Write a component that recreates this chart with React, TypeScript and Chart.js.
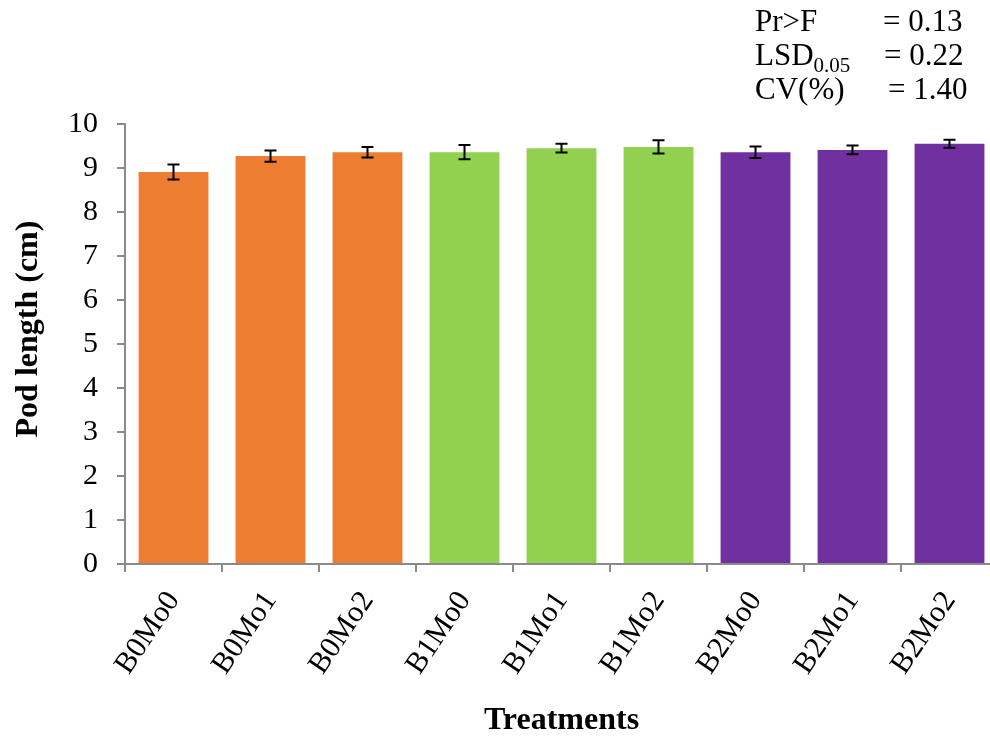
import React, { useEffect, useRef } from "react";
import { Chart, registerables } from "chart.js";

Chart.register(...registerables);

const categories = ["B0Mo0", "B0Mo1", "B0Mo2", "B1Mo0", "B1Mo1", "B1Mo2", "B2Mo0", "B2Mo1", "B2Mo2"];
const podLength = [8.91, 9.27, 9.36, 9.36, 9.45, 9.48, 9.36, 9.41, 9.55];
const errorValues = [0.17, 0.13, 0.12, 0.16, 0.1, 0.15, 0.13, 0.1, 0.09];
const barColors = [
  "#ED7D31", "#ED7D31", "#ED7D31",
  "#92D050", "#92D050", "#92D050",
  "#7030A0", "#7030A0", "#7030A0",
];
const yMin = 0;
const yMax = 10;
const yStep = 1;
const yTitle = "Pod length (cm)";
const xTitle = "Treatments";
const statLabels = ["Pr>F", "LSD", "CV(%)"];
const statSubs = ["", "0.05", ""];
const statValues = ["= 0.13", "= 0.22", "= 1.40"];

const SERIF = '"Liberation Serif", "Times New Roman", serif';
const AXIS_GRAY = "#8a8a8a";

const errorBarPlugin = {
  id: "errorBars",
  afterDatasetsDraw(chart: any) {
    const ctx = chart.ctx;
    const meta = chart.getDatasetMeta(0);
    const y = chart.scales.y;
    ctx.save();
    ctx.strokeStyle = "#000";
    ctx.lineWidth = 2;
    meta.data.forEach((bar: any, i: number) => {
      const x = bar.x;
      const top = y.getPixelForValue(podLength[i] + errorValues[i]);
      const bot = y.getPixelForValue(podLength[i] - errorValues[i]);
      ctx.beginPath();
      ctx.moveTo(x, top);
      ctx.lineTo(x, bot);
      ctx.moveTo(x - 6, top);
      ctx.lineTo(x + 6, top);
      ctx.moveTo(x - 6, bot);
      ctx.lineTo(x + 6, bot);
      ctx.stroke();
    });
    ctx.restore();
  },
};

const yTitlePlugin = {
  id: "yTitle",
  afterDraw(chart: any) {
    const ctx = chart.ctx;
    ctx.save();
    ctx.translate(29, 329);
    ctx.rotate(-Math.PI / 2);
    ctx.font = `bold 32px ${SERIF}`;
    ctx.fillStyle = "#000";
    ctx.textAlign = "center";
    ctx.textBaseline = "middle";
    ctx.fillText(yTitle, 0, 0);
    ctx.restore();
  },
};

export default function App() {
  const canvasRef = useRef<HTMLCanvasElement | null>(null);

  useEffect(() => {
    if (!canvasRef.current) return;
    const chart = new Chart(canvasRef.current, {
      type: "bar",
      data: {
        labels: categories,
        datasets: [
          {
            data: podLength,
            backgroundColor: barColors,
            borderWidth: 0,
            categoryPercentage: 1,
            barPercentage: 0.72,
          },
        ],
      },
      options: {
        responsive: false,
        animation: false,
        devicePixelRatio: 1,
        layout: { padding: { top: 124, left: 0, right: 2, bottom: 0 } },
        plugins: {
          legend: { display: false },
          tooltip: { enabled: false },
          title: { display: false },
        },
        scales: {
          x: {
            grid: {
              display: true,
              drawOnChartArea: false,
              drawTicks: true,
              tickLength: 8,
              color: AXIS_GRAY,
              lineWidth: 2,
            },
            border: { display: true, color: AXIS_GRAY, width: 2 },
            ticks: {
              minRotation: 56,
              maxRotation: 56,
              padding: 13,
              color: "#000",
              font: { family: SERIF, size: 30 },
            },
            title: {
              display: true,
              text: xTitle,
              color: "#000",
              font: { family: SERIF, size: 32, weight: "bold" },
              padding: { top: 0, bottom: 0 },
            },
            afterFit(scale: any) {
              scale.height = 176;
            },
          },
          y: {
            min: yMin,
            max: yMax,
            grid: {
              display: true,
              drawOnChartArea: false,
              drawTicks: true,
              tickLength: 8,
              color: AXIS_GRAY,
              lineWidth: 2,
            },
            border: { display: true, color: AXIS_GRAY, width: 2 },
            ticks: {
              stepSize: yStep,
              padding: 19,
              color: "#000",
              font: { family: SERIF, size: 30 },
            },
            afterFit(scale: any) {
              scale.width = 125;
            },
          },
        },
      },
      plugins: [errorBarPlugin, yTitlePlugin],
    });
    return () => chart.destroy();
  }, []);

  const rowTops = [2, 36, 70];
  const valueLefts = [883, 884, 888];

  return (
    <div
      style={{
        position: "fixed",
        left: 0,
        top: 0,
        width: 990,
        height: 740,
        overflow: "hidden",
        background: "#fff",
      }}
    >
      <canvas ref={canvasRef} width={1000} height={740} style={{ position: "absolute", left: 0, top: 0 }} />
      {statLabels.map((lab, i) => (
        <React.Fragment key={lab}>
          <div
            style={{
              position: "absolute",
              left: 755,
              top: rowTops[i],
              font: `31px ${SERIF}`,
              lineHeight: "38px",
              color: "#000",
              whiteSpace: "nowrap",
            }}
          >
            {lab}
            {statSubs[i] ? (
              <span style={{ fontSize: 21, position: "relative", top: 7 }}>{statSubs[i]}</span>
            ) : null}
          </div>
          <div
            style={{
              position: "absolute",
              left: valueLefts[i],
              top: rowTops[i],
              font: `31px ${SERIF}`,
              lineHeight: "38px",
              color: "#000",
              whiteSpace: "nowrap",
            }}
          >
            {statValues[i]}
          </div>
        </React.Fragment>
      ))}
    </div>
  );
}
